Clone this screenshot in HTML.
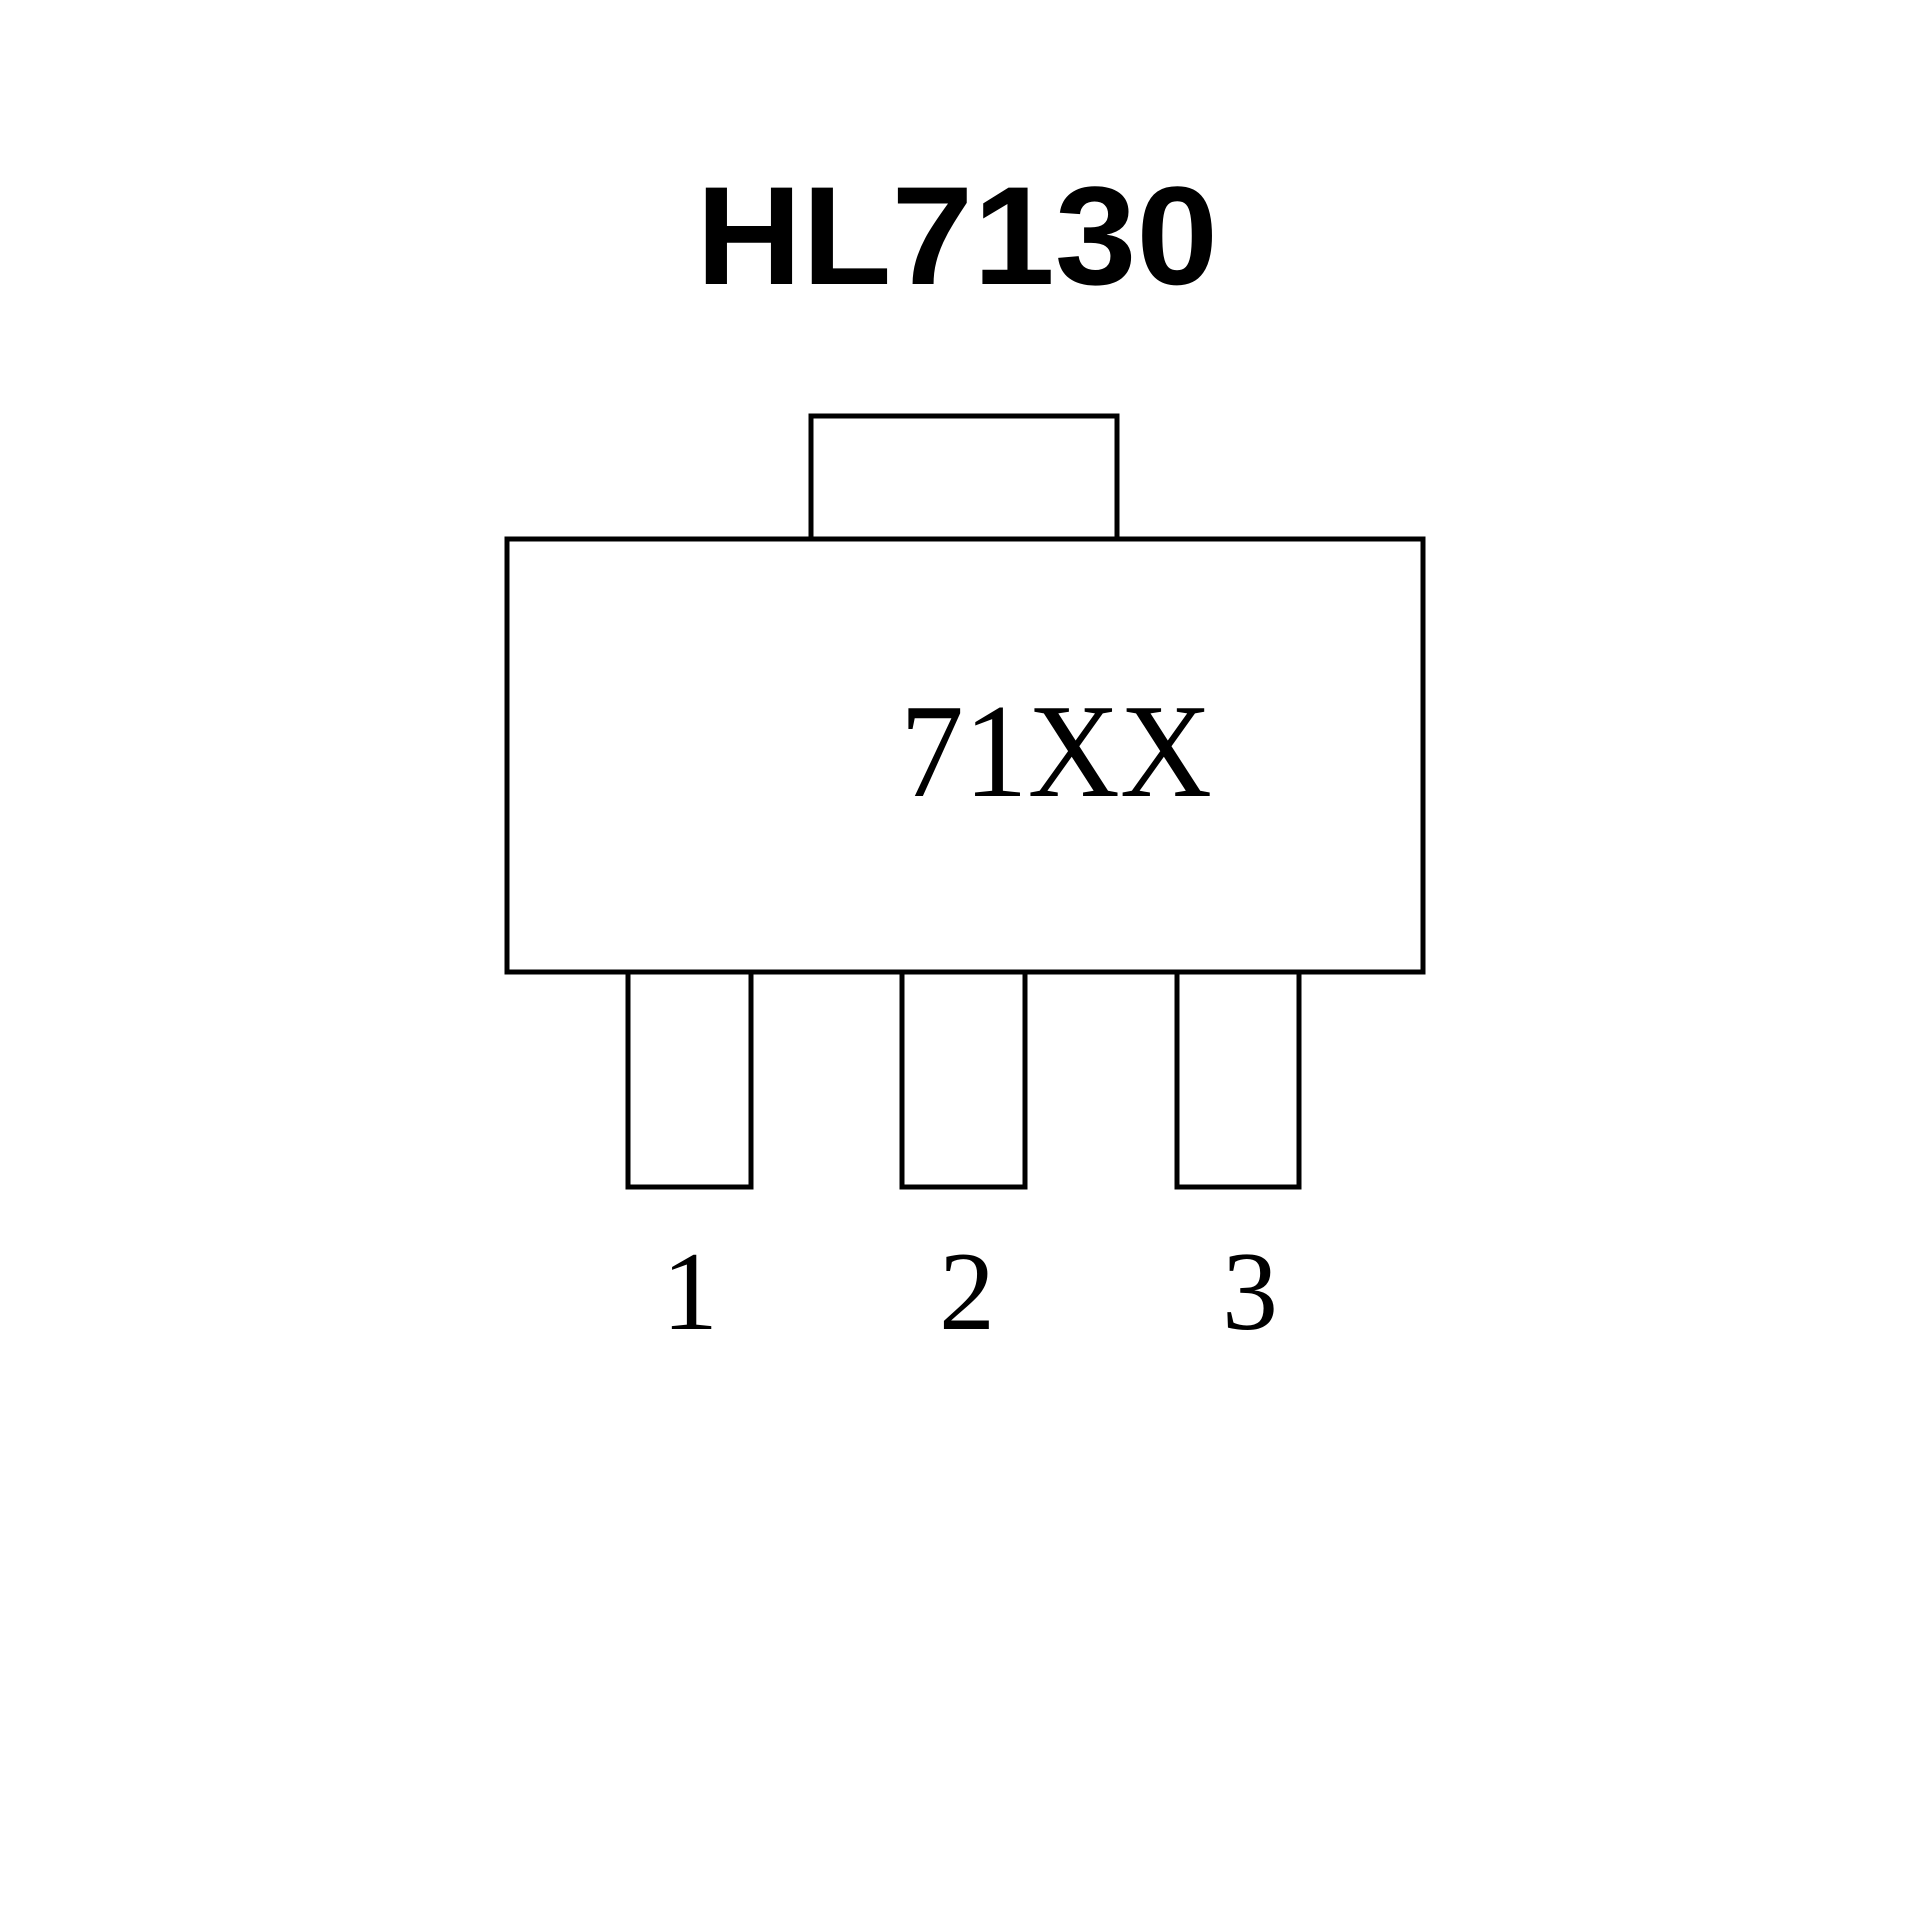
<!DOCTYPE html>
<html><head><meta charset="utf-8"><style>html,body{margin:0;padding:0;background:#fff}svg{display:block}</style></head>
<body>
<svg width="1920" height="1920" viewBox="0 0 1920 1920" xmlns="http://www.w3.org/2000/svg">
<rect width="1920" height="1920" fill="#fff"/>
<text x="957" y="284" text-anchor="middle" font-family="Liberation Sans, sans-serif" font-weight="bold" font-size="140" textLength="522" lengthAdjust="spacingAndGlyphs">HL7130</text>
<g fill="none" stroke="#000" stroke-width="5" stroke-linejoin="miter">
<rect x="811" y="416" width="306" height="123"/>
<rect x="507" y="539" width="916" height="433"/>
<rect x="628" y="972" width="123" height="215"/>
<rect x="902" y="972" width="123" height="215"/>
<rect x="1177" y="972" width="122" height="215"/>
</g>
<text x="900" y="796" font-family="Liberation Serif, serif" font-size="134" textLength="312" lengthAdjust="spacingAndGlyphs">71XX</text>
<g font-family="Liberation Serif, serif" font-size="112" text-anchor="middle">
<text x="690" y="1329">1</text>
<text x="967" y="1329">2</text>
<text x="1250" y="1329">3</text>
</g>
</svg>
</body></html>
